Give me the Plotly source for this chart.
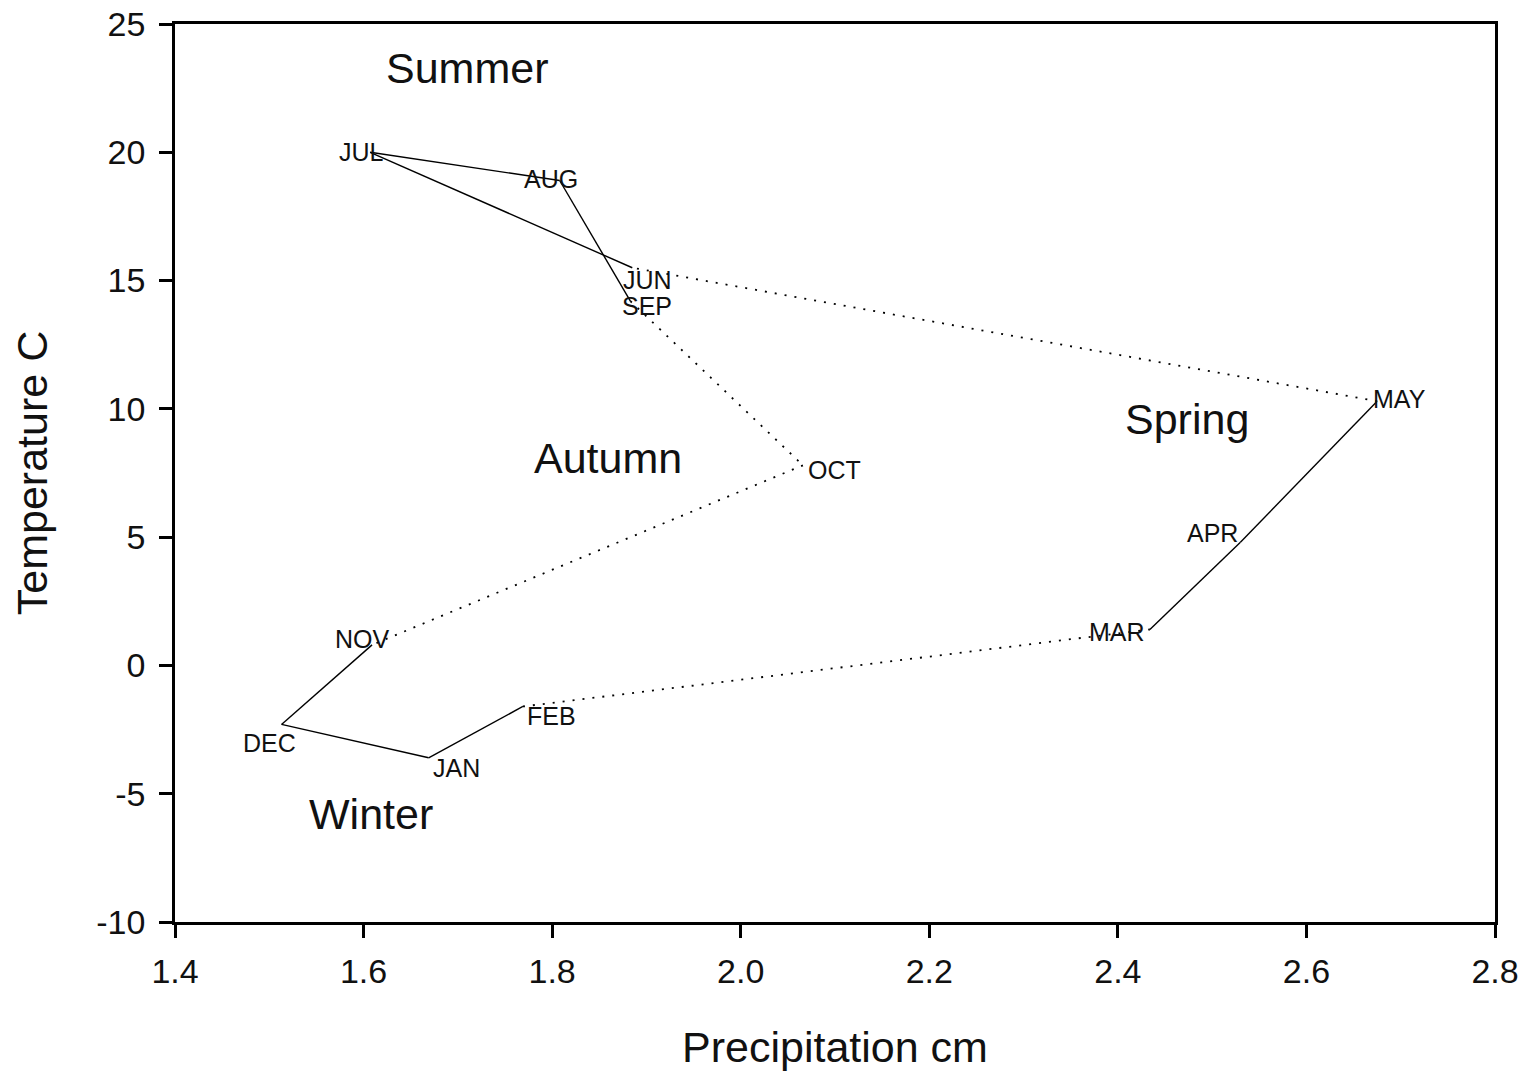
import plotly.graph_objects as go

# Monthly mean precipitation (cm) and temperature (C)
months = ["JAN", "FEB", "MAR", "APR", "MAY", "JUN",
          "JUL", "AUG", "SEP", "OCT", "NOV", "DEC"]
precip = [1.669, 1.769, 2.434, 2.530, 2.675, 1.885,
          1.607, 1.808, 1.883, 2.066, 1.609, 1.513]
temp = [-3.6, -1.6, 1.4, 4.8, 10.3, 15.5,
        20.0, 18.9, 14.2, 7.8, 0.8, -2.3]

# Connections: solid within a season, dotted between seasons
segments = [
    ("NOV", "DEC", "solid"), ("DEC", "JAN", "solid"), ("JAN", "FEB", "solid"),
    ("FEB", "MAR", "dot"),
    ("MAR", "APR", "solid"), ("APR", "MAY", "solid"),
    ("MAY", "JUN", "dot"),
    ("JUN", "JUL", "solid"), ("JUL", "AUG", "solid"), ("AUG", "SEP", "solid"),
    ("SEP", "OCT", "dot"), ("OCT", "NOV", "dot"),
]

# Label offsets from each month's point (pixels, right / up)
label_shift = {
    "JUL": (-9, 0), "AUG": (-9, 2), "JUN": (15, -12), "SEP": (17, -5),
    "OCT": (32, -5), "NOV": (-10, 6), "DEC": (-12, -19), "JAN": (28, -10),
    "FEB": (29, -10), "MAR": (-33, -2), "APR": (-28, 9), "MAY": (22, 2),
}

seasons = ["Summer", "Autumn", "Spring", "Winter"]
season_x = [1.710, 1.859, 2.473, 1.608]
season_y = [23.28, 8.08, 9.60, -5.79]

x_ticks = [1.4, 1.6, 1.8, 2.0, 2.2, 2.4, 2.6, 2.8]
x_tick_text = ["1.4", "1.6", "1.8", "2.0", "2.2", "2.4", "2.6", "2.8"]
y_ticks = [-10, -5, 0, 5, 10, 15, 20, 25]
y_tick_text = ["-10", "-5", "0", "5", "10", "15", "20", "25"]

FONT = "Liberation Sans, Arial, sans-serif"
INK = "#111111"

idx = {m: i for i, m in enumerate(months)}
fig = go.Figure()
for a, b, style in segments:
    i, j = idx[a], idx[b]
    line = dict(color="black", width=1.4)
    if style == "dot":
        line = dict(color="black", width=1.8, dash="2px,8px")
    fig.add_trace(go.Scatter(
        x=[precip[i], precip[j]], y=[temp[i], temp[j]],
        mode="lines", line=line, hoverinfo="skip", showlegend=False))

annotations = []
for m, x, y in zip(months, precip, temp):
    dx, dy = label_shift[m]
    annotations.append(dict(
        x=x, y=y, xref="x", yref="y", text=m, showarrow=False,
        xshift=dx, yshift=dy, font=dict(family=FONT, size=25, color=INK)))
for s, x, y in zip(seasons, season_x, season_y):
    annotations.append(dict(
        x=x, y=y, xref="x", yref="y", text=s, showarrow=False,
        font=dict(family=FONT, size=43, color=INK)))

axis_common = dict(
    showline=True, linecolor="black", linewidth=2.5, mirror=True,
    ticks="outside", ticklen=13, tickwidth=2.5, tickcolor="black",
    showgrid=False, zeroline=False, automargin=False,
    tickfont=dict(family=FONT, size=34, color=INK),
)

fig.update_layout(
    width=1535, height=1076,
    margin=dict(l=175, r=40, t=24, b=154),
    paper_bgcolor="white", plot_bgcolor="white",
    xaxis=dict(range=[1.4, 2.8], tickvals=x_ticks, ticktext=x_tick_text,
               ticklabelstandoff=4,
               title=dict(text="Precipitation cm", standoff=44,
                          font=dict(family=FONT, size=43, color=INK)),
               **axis_common),
    yaxis=dict(range=[-10, 25], tickvals=y_ticks, ticktext=y_tick_text,
               ticklabelstandoff=7,
               title=dict(text="Temperature C", standoff=36,
                          font=dict(family=FONT, size=43, color=INK)),
               **axis_common),
    annotations=annotations,
)

fig.write_html("out.html")
